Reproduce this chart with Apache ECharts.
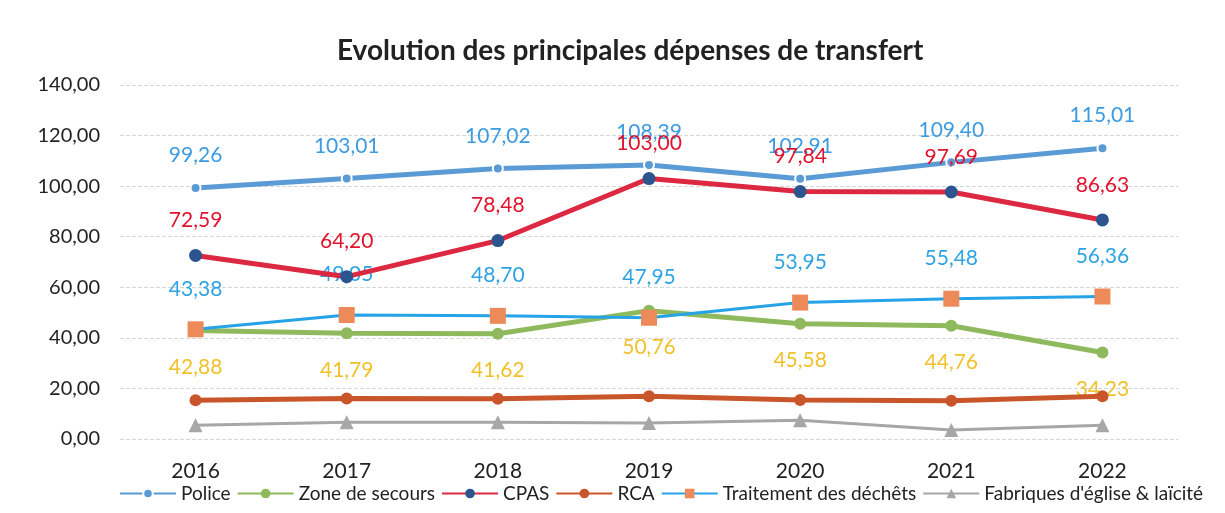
<!DOCTYPE html>
<html>
<head>
<meta charset="utf-8">
<script src="https://cdn.jsdelivr.net/npm/echarts@6/dist/echarts.min.js"></script>
<style>
  html, body { margin: 0; padding: 0; background: #fff; }
  #chart { width: 1225px; height: 513px; }
</style>
</head>
<body>
<div id="chart"></div>
<script>
  const years = ['2016', '2017', '2018', '2019', '2020', '2021', '2022'];
  const police = [99.26, 103.01, 107.02, 108.39, 102.91, 109.40, 115.01];
  const zoneSecours = [42.88, 41.79, 41.62, 50.76, 45.58, 44.76, 34.23];
  const cpas = [72.59, 64.20, 78.48, 103.00, 97.84, 97.69, 86.63];
  const rca = [15.3, 16.0, 15.9, 16.9, 15.4, 15.1, 16.9];
  const dechets = [43.38, 49.05, 48.70, 47.95, 53.95, 55.48, 56.36];
  const fabriques = [5.4, 6.6, 6.6, 6.3, 7.4, 3.6, 5.4];

  const fmt = v => Number(v).toFixed(2).replace('.', ',');
  const font = 'Lato, "Open Sans", sans-serif';

  let chart = echarts.init(document.getElementById('chart'));
  chart.setOption({
    animation: false,
    textStyle: { fontFamily: font },
    title: {
      text: 'Evolution des principales dépenses de transfert',
      left: 332,
      top: 32,
      textStyle: { fontSize: 28, fontWeight: 'bold', color: '#222', fontFamily: font }
    },
    grid: { left: 120, right: 47, top: 85, bottom: 74 },
    legend: {
      bottom: 5,
      left: 114,
      itemWidth: 56,
      itemHeight: 12,
      itemGap: 6,
      textStyle: { fontSize: 19, color: '#222', fontFamily: font },
      data: ['Police', 'Zone de secours', 'CPAS', 'RCA', 'Traitement des déchêts', "Fabriques d'église & laïcité"]
    },
    xAxis: {
      type: 'category',
      data: years,
      axisLine: { show: false },
      axisTick: { show: false },
      axisLabel: { fontSize: 21, color: '#222', margin: 22 }
    },
    yAxis: {
      type: 'value',
      min: 0,
      max: 140,
      interval: 20,
      axisLabel: { fontSize: 20, color: '#222', margin: 20, formatter: fmt },
      splitLine: { lineStyle: { color: '#d6d6d6', type: 'dashed', width: 1 } }
    },
    series: [
      {
        name: 'Police',
        type: 'line',
        data: police,
        symbol: 'circle',
        symbolSize: 10,
        z: 3,
        lineStyle: { color: '#5b9bd5', width: 5 },
        itemStyle: { color: '#5b9bd5', borderColor: '#fff', borderWidth: 2 },
        label: { show: true, position: 'top', distance: 16, fontSize: 21, color: '#3d9be2', formatter: p => fmt(p.value) }
      },
      {
        name: 'Zone de secours',
        type: 'line',
        data: zoneSecours,
        symbol: 'circle',
        symbolSize: 12,
        z: 2,
        lineStyle: { color: '#8fb95d', width: 5 },
        itemStyle: { color: '#8fb95d' },
        label: { show: true, position: 'bottom', distance: 20, fontSize: 21, color: '#f1c12a', formatter: p => fmt(p.value) }
      },
      {
        name: 'CPAS',
        type: 'line',
        data: cpas,
        symbol: 'circle',
        symbolSize: 13,
        z: 4,
        lineStyle: { color: '#dc2840', width: 5 },
        itemStyle: { color: '#2c5590' },
        label: { show: true, position: 'top', distance: 18, fontSize: 21, color: '#e0142e', formatter: p => fmt(p.value) }
      },
      {
        name: 'RCA',
        type: 'line',
        data: rca,
        symbol: 'circle',
        symbolSize: 12,
        lineStyle: { color: '#c9562a', width: 5 },
        itemStyle: { color: '#c9562a' }
      },
      {
        name: 'Traitement des déchêts',
        type: 'line',
        data: dechets,
        symbol: 'rect',
        symbolSize: 16,
        z: 3,
        lineStyle: { color: '#25a3e6', width: 3 },
        itemStyle: { color: '#ed8a5a' },
        label: { show: true, position: 'top', distance: 22, fontSize: 21, color: '#2ea3e3', formatter: p => fmt(p.value) }
      },
      {
        name: "Fabriques d'église & laïcité",
        type: 'line',
        data: fabriques,
        symbol: 'triangle',
        symbolSize: 14,
        lineStyle: { color: '#a7a7a7', width: 3 },
        itemStyle: { color: '#a7a7a7' }
      }
    ]
  });
</script>
</body>
</html>
